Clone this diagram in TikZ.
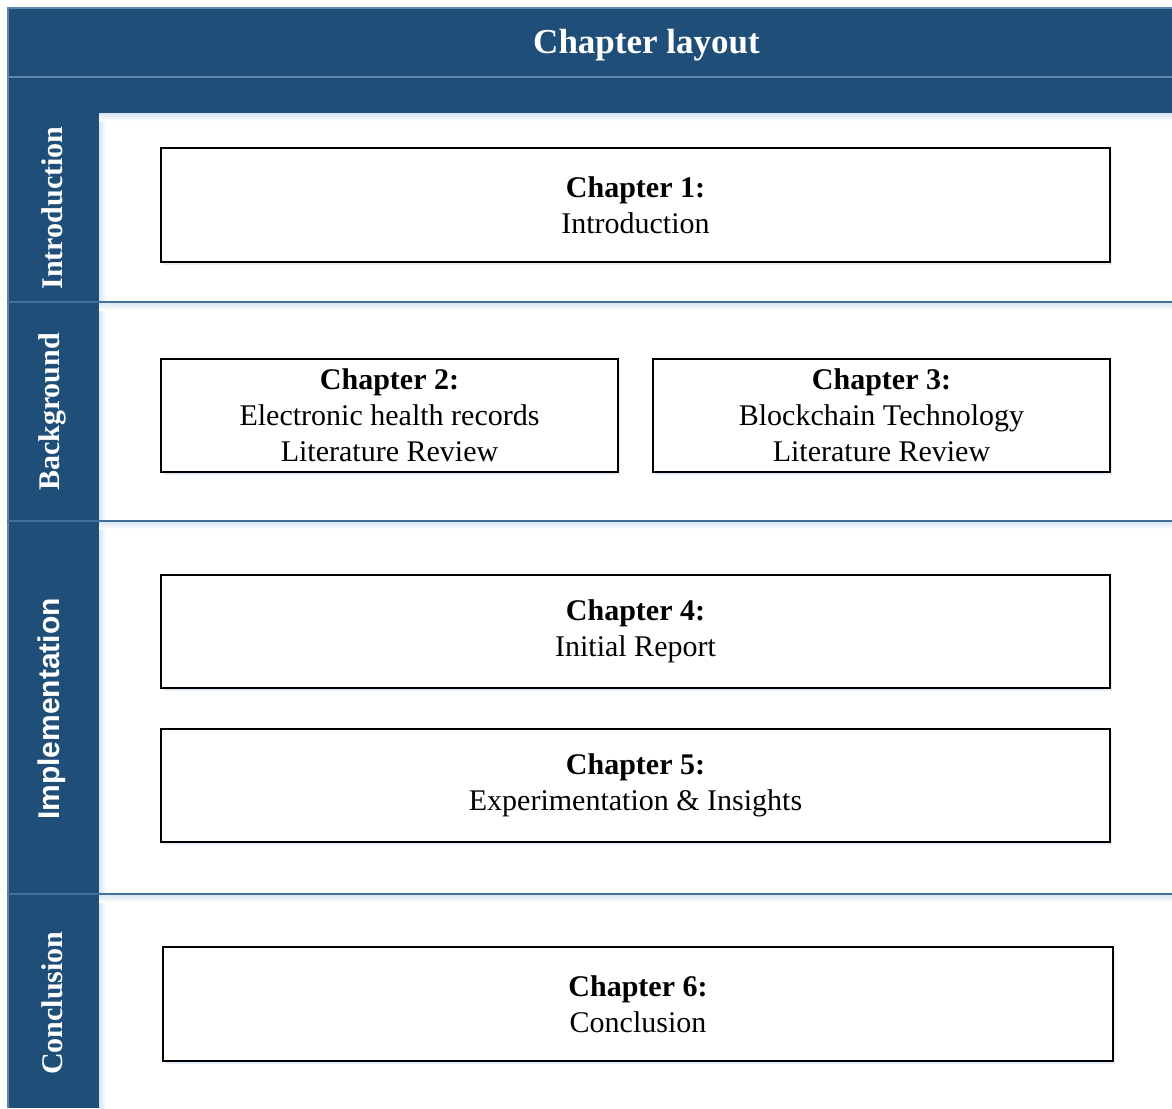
\documentclass[tikz,border=0pt]{standalone}
\usepackage{fontspec}
\setmainfont{Liberation Serif}
\newfontfamily\labelsans{Liberation Sans}
\usetikzlibrary{shadows}
\definecolor{hdrblue}{HTML}{1F4E79}
\definecolor{rulblue}{HTML}{41719C}
\definecolor{glowblue}{HTML}{D6E3F2}
\tikzset{
  chapbox/.style={draw=black, line width=1.6pt, fill=white, rectangle,
    inner sep=0pt, align=center, font=\fontsize{30}{36}\selectfont,
    general shadow={fill=glowblue, opacity=0.6, shadow xshift=2pt, shadow yshift=-3pt}},
  sidelabel/.style={text=white, rotate=90, font=\bfseries\fontsize{30}{34}\selectfont, inner sep=0pt},
  seprule/.style={draw=rulblue, line width=2pt},
  hdrrule/.style={draw=rulblue!85!white, line width=1.6pt}
}
\begin{document}
\begin{tikzpicture}[x=1pt,y=-1pt]
\useasboundingbox (0,0) rectangle (1172,1108);
\fill[white] (0,0) rectangle (1172,1108);
% soft glow beside the column, under the header and under each separator
\shade[left color=glowblue, right color=white] (99,113) rectangle (106,1108);
\shade[top color=glowblue, bottom color=white] (99,113) rectangle (1172,121);
\foreach \yy in {302,521,894}{
  \shade[top color=glowblue, bottom color=white] (99,\yy) rectangle (1172,\yy+8);
}
% header band and left column
\fill[hdrblue] (7,7) rectangle (1172,113);
\fill[hdrblue] (7,113) rectangle (99,1108);
\draw[hdrrule] (7,7.8) -- (1172,7.8);
\draw[hdrrule] (7.8,7) -- (7.8,1108);
\draw[hdrrule] (7,77) -- (1172,77);
% section separators
\foreach \yy in {302,521,894}{
  \draw[seprule] (7,\yy) -- (1172,\yy);
}
\node[text=white, font=\bfseries\fontsize{35}{40}\selectfont] (title) at (646.5,45) {Chapter layout};
% row labels
\node[sidelabel] (lintro) at (52,208) {Introduction};
\node[sidelabel] (lback) at (52,412) {Background};
\node[sidelabel, font=\labelsans\bfseries\fontsize{30}{34}\selectfont] (limpl) at (52,709) {Implementation};
\node[sidelabel] (lconc) at (52,1003) {Conclusion};
% chapter boxes
\node[chapbox, minimum width=949pt, minimum height=114pt] (ch1) at (635.5,205)
  {\textbf{Chapter 1:}\\Introduction};
\node[chapbox, minimum width=457pt, minimum height=113pt] (ch2) at (389.5,415.5)
  {\textbf{Chapter 2:}\\Electronic health records\\Literature Review};
\node[chapbox, minimum width=457pt, minimum height=113pt] (ch3) at (881.5,415.5)
  {\textbf{Chapter 3:}\\Blockchain Technology\\Literature Review};
\node[chapbox, minimum width=949pt, minimum height=113pt] (ch4) at (635.5,631.5)
  {\textbf{Chapter 4:}\\Initial Report};
\node[chapbox, minimum width=949pt, minimum height=113pt] (ch5) at (635.5,785.5)
  {\textbf{Chapter 5:}\\Experimentation \& Insights};
\node[chapbox, minimum width=950pt, minimum height=114pt] (ch6) at (638,1004)
  {\textbf{Chapter 6:}\\Conclusion};
\end{tikzpicture}
\end{document}
